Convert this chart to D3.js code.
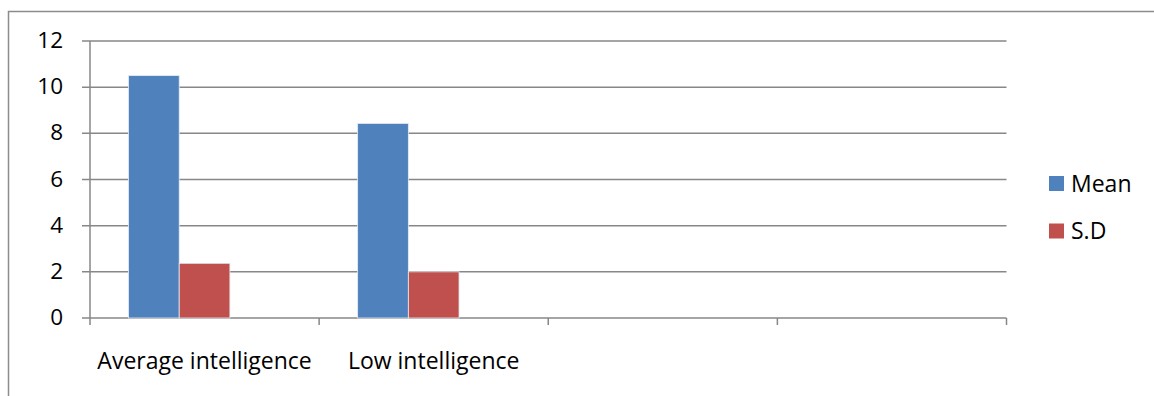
<!DOCTYPE html>
<html>
<head>
<meta charset="utf-8">
<script src="https://cdn.jsdelivr.net/npm/d3@7"></script>
<style>
  html, body { margin: 0; padding: 0; background: #fff; }
  svg text { font-family: "Open Sans", "Liberation Sans", sans-serif; fill: #000; }
</style>
</head>
<body>
<div id="chart"></div>
<script>
// categories (the last two slots are empty in the original sheet)
var categories = ['Average intelligence', 'Low intelligence', '', ' '];
// series: the third one is blank, it only reserves space in each group
var series_names = ['Mean', 'S.D', ''];
var mean_values  = [10.5, 8.43, null, null];
var sd_values    = [2.37, 2.0, null, null];
var blank_values = [null, null, null, null];
var y_ticks = [0, 2, 4, 6, 8, 10, 12];
var colors = ['#4F81BD', '#C0504D', '#9BBB59'];

var W = 1154, H = 396;
var m = { left: 90, top: 41 };

var svg = d3.select('#chart').append('svg')
  .attr('width', W)
  .attr('height', H);

// chart frame, runs off the right and bottom edges
svg.append('rect')
  .attr('x', 8.5).attr('y', 11.5)
  .attr('width', W + 20).attr('height', H + 20)
  .attr('fill', 'none')
  .attr('stroke', '#8c8c8c')
  .attr('stroke-width', 1.5);

var width  = 1006.5 - m.left;
var height = 318 - m.top;

var gph = svg.append('g')
  .attr('transform', `translate(${ m.left }, ${ m.top })`);

var x = d3.scaleBand()
  .domain(categories)
  .range([0, width])
  .padding(0);

var inner = d3.scaleBand()
  .domain(d3.range(series_names.length))
  .range([0, x.bandwidth() * 152 / 229])
  .padding(0);

var group_off = (x.bandwidth() - inner.range()[1]) / 2;

var y = d3.scaleLinear()
  .domain([0, 12])
  .range([height, 0]);

// gridlines + left ticks
gph.selectAll('line.grid')
  .data(y_ticks)
  .enter()
  .append('line')
  .attr('class', 'grid')
  .attr('x1', -8)
  .attr('x2', width)
  .attr('y1', (d) => y(d))
  .attr('y2', (d) => y(d))
  .attr('stroke', '#878787')
  .attr('stroke-width', 1.5);

gph.selectAll('text.ytick')
  .data(y_ticks)
  .enter()
  .append('text')
  .attr('class', 'ytick')
  .attr('x', -27)
  .attr('y', (d) => y(d) - 1)
  .attr('dy', '0.36em')
  .attr('text-anchor', 'end')
  .attr('font-size', 22.5)
  .text((d) => d);

// y axis line
gph.append('line')
  .attr('x1', 0).attr('x2', 0)
  .attr('y1', 0).attr('y2', height)
  .attr('stroke', '#878787')
  .attr('stroke-width', 1.5);

// x tick marks at slot boundaries
var x_bounds = categories.map((c) => x(c)).concat([width]);
gph.selectAll('line.xtick')
  .data(x_bounds)
  .enter()
  .append('line')
  .attr('class', 'xtick')
  .attr('x1', (d) => d).attr('x2', (d) => d)
  .attr('y1', height).attr('y2', height + 7)
  .attr('stroke', '#878787')
  .attr('stroke-width', 1.5);

var sources = [mean_values, sd_values, blank_values];

sources.forEach((vals, si) => {
  gph.selectAll(`rect.s${ si }`)
    .data(vals.map((v, i) => ({ c: categories[i], v: v })).filter((d) => d.v != null))
    .enter()
    .append('rect')
    .attr('class', `s${ si }`)
    .attr('x', (d) => x(d.c) + group_off + inner(si))
    .attr('y', (d) => y(d.v))
    .attr('width', inner.bandwidth())
    .attr('height', (d) => height - y(d.v))
    .attr('fill', colors[si])
    .attr('stroke', '#e6ecf5')
    .attr('stroke-width', 0.8);
});

// category labels, centred in their slots
gph.selectAll('text.xlab')
  .data(categories.slice(0, 2))
  .enter()
  .append('text')
  .attr('class', 'xlab')
  .attr('x', (d) => x(d) + x.bandwidth() / 2)
  .attr('y', height + 51)
  .attr('text-anchor', 'middle')
  .attr('font-size', 23)
  .text((d) => d);

// legend
var leg = svg.append('g')
  .attr('transform', 'translate(1049, 176)');

var leg_items = leg.selectAll('g')
  .data(series_names.filter((s) => s !== ''))
  .enter()
  .append('g')
  .attr('transform', (d, i) => `translate(0, ${ i * 47.5 })`);

leg_items.append('rect')
  .attr('width', 15)
  .attr('height', 15)
  .attr('fill', (d, i) => colors[i]);

leg_items.append('text')
  .attr('x', 22)
  .attr('y', 15.5)
  .attr('font-size', 23)
  .text((d) => d);
</script>
</body>
</html>
